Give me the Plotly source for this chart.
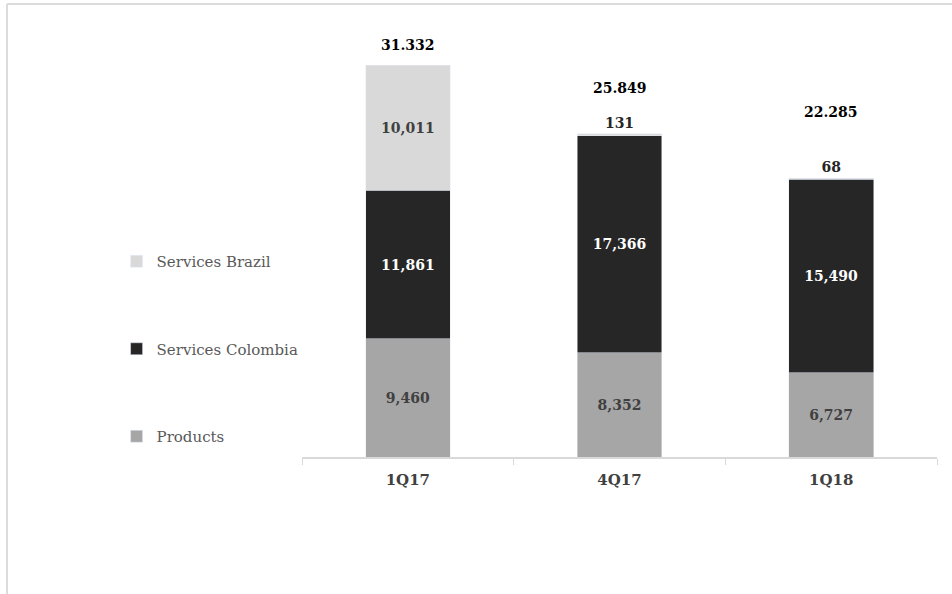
import plotly.graph_objects as go

categories = ["1Q17", "4Q17", "1Q18"]
products = [9460, 8352, 6727]
services_colombia = [11861, 17366, 15490]
services_brazil = [10011, 131, 68]
total_labels = ["31.332", "25.849", "22.285"]
totals = [p + c + b for p, c, b in zip(products, services_colombia, services_brazil)]

FONT = "DejaVu Serif"
fmt = lambda v: f"<b>{v:,}</b>"
total_shift = [20, 46, 66]  # px above bar top (style)

fig = go.Figure()
fig.add_trace(go.Bar(
    name="Products", x=categories, y=products, marker_color="#a6a6a6",
    text=[fmt(v) for v in products], textposition="inside", insidetextanchor="middle",
    textfont=dict(family=FONT, size=14, color="#404040"), width=0.4,
    legendgroup="p", legendrank=3, cliponaxis=False, textangle=0))
fig.add_trace(go.Bar(
    name="Services Colombia", x=categories, y=services_colombia, marker_color="#262626",
    text=[fmt(v) for v in services_colombia], textposition="inside", insidetextanchor="middle",
    textfont=dict(family=FONT, size=14, color="#ffffff"), width=0.4,
    legendgroup="c", legendrank=2, cliponaxis=False, textangle=0))
fig.add_trace(go.Bar(
    name="Services Brazil", x=categories, y=services_brazil, marker_color="#d9d9d9",
    text=[fmt(v) for v in services_brazil],
    textposition=["inside" if v > 2000 else "outside" for v in services_brazil],
    insidetextanchor="middle",
    textfont=dict(family=FONT, size=14, color="#404040"),
    outsidetextfont=dict(family=FONT, size=14, color="#262626"), width=0.4,
    legendgroup="b", legendrank=1, cliponaxis=False, textangle=0))

for cat, tot, lab, s in zip(categories, totals, total_labels, total_shift):
    fig.add_annotation(x=cat, y=tot, text=f"<b>{lab}</b>", showarrow=False,
                       yanchor="middle", yshift=s,
                       font=dict(family=FONT, size=14, color="#000000"))

# outer border lines
fig.add_shape(type="line", xref="paper", yref="paper", x0=-0.4646, x1=1.03, y0=1.1325, y1=1.1325,
              line=dict(color="#dcdcdc", width=2))
fig.add_shape(type="line", xref="paper", yref="paper", x0=-0.4646, x1=-0.4646, y0=1.1325, y1=-0.35,
              line=dict(color="#dcdcdc", width=2))

fig.update_layout(
    width=952, height=594,
    margin=dict(l=302, r=15, t=57, b=137),
    barmode="stack",
    paper_bgcolor="white", plot_bgcolor="white",
    font=dict(family=FONT, color="#404040"),
    uniformtext=dict(mode=False),
    showlegend=True,
    legend=dict(x=-0.292, xanchor="left", y=0.53, yanchor="top",
                traceorder="grouped", tracegroupgap=65,
                font=dict(family=FONT, size=15, color="#595959"),
                itemwidth=30, bgcolor="rgba(0,0,0,0)"),
    xaxis=dict(showline=True, linecolor="#d9d9d9", linewidth=1.5,
               ticks="outside", tickson="boundaries", ticklen=6, tickcolor="#d9d9d9",
               ticklabelstandoff=8,
               tickfont=dict(family=FONT, size=15, color="#404040"),
               showgrid=False),
    yaxis=dict(range=[0, 32000], visible=False, showgrid=False),
)
fig.update_xaxes(tickprefix="<b>", ticksuffix="</b>")

fig.write_html("out.html")
